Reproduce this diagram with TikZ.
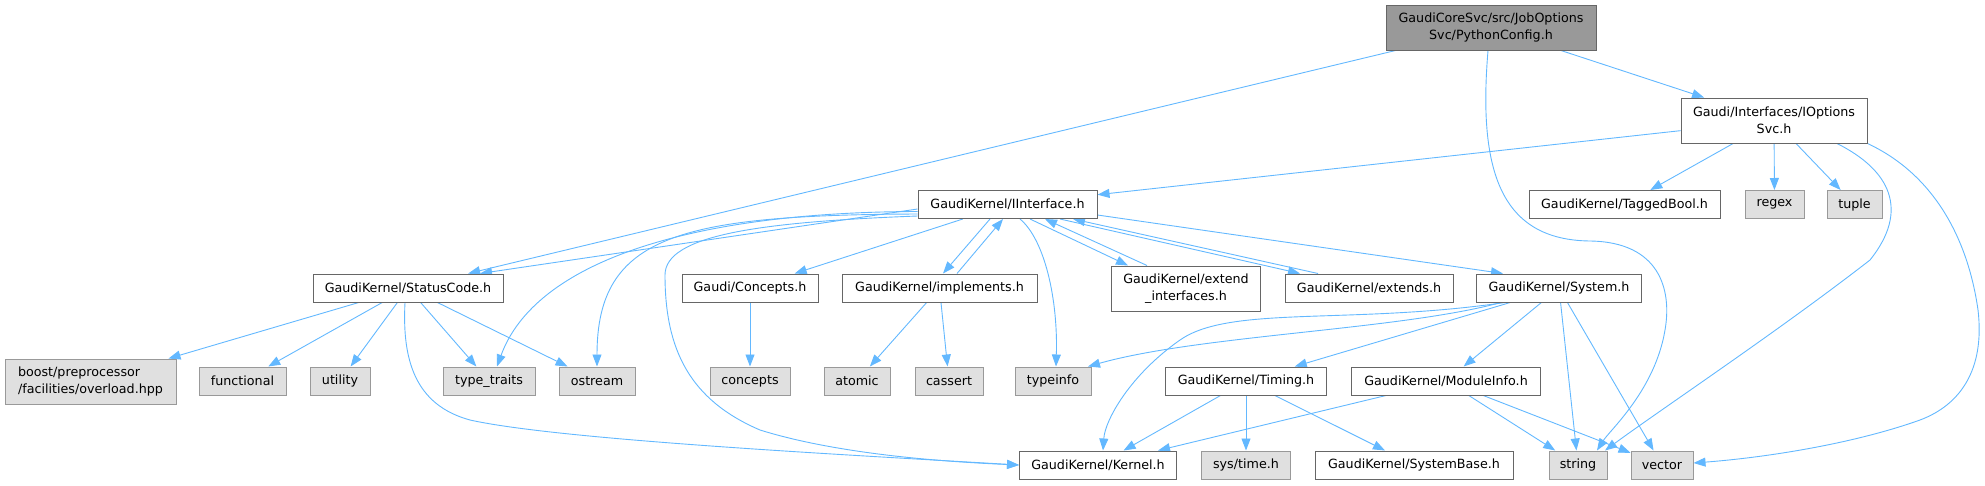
\documentclass[tikz,border=0pt]{standalone}
\usepackage{fontspec}
\setmainfont{DejaVu Sans}
\usetikzlibrary{arrows.meta}
\definecolor{edgec}{HTML}{63B8FF}
\definecolor{bord}{HTML}{666666}
\definecolor{gbord}{HTML}{999999}
\definecolor{gfill}{HTML}{E0E0E0}
\definecolor{rootfill}{HTML}{999999}
\pgfdeclarelayer{bg}
\pgfsetlayers{bg,main}
\begin{document}
\begin{tikzpicture}[x=1pt,y=-1pt,
  every node/.style={font=\fontsize{12.7}{17}\selectfont, inner sep=0pt, align=center, text=black},
  wbox/.style={draw=bord, fill=white, line width=1pt, minimum height=28pt},
  gbox/.style={draw=gbord, fill=gfill, line width=1pt, minimum height=28pt},
  rbox/.style={draw=bord, fill=rootfill, line width=1pt},
  tall/.style={minimum height=45pt},
  edge/.style={draw=edgec, line width=0.9pt, -{Triangle[length=12pt,width=9pt]}},
]
\useasboundingbox (0,0) rectangle (1985,485);
% nodes
\node[rbox, tall, minimum width=210pt] (root) at (1491,27.5) {GaudiCoreSvc/src/JobOptions\\Svc/PythonConfig.h};
\node[wbox, tall, minimum width=186pt] (iopt) at (1774,120.5) {Gaudi/Interfaces/IOptions\\Svc.h};
\node[wbox, minimum width=191pt] (tagged) at (1624.5,204.5) {GaudiKernel/TaggedBool.h};
\node[gbox, minimum width=59pt] (regex) at (1774.5,204.5) {regex};
\node[gbox, minimum width=55pt] (tuple) at (1854.5,204.5) {tuple};
\node[wbox, minimum width=179pt] (iint) at (1007.5,204.5) {GaudiKernel/IInterface.h};
\node[wbox, minimum width=190pt] (status) at (408,288) {GaudiKernel/StatusCode.h};
\node[wbox, minimum width=136pt] (concepth) at (750,288) {Gaudi/Concepts.h};
\node[wbox, minimum width=195pt] (impl) at (939.5,288) {GaudiKernel/implements.h};
\node[wbox, tall, minimum width=149pt] (extif) at (1186,288.5) {GaudiKernel/extend\\\_interfaces.h};
\node[wbox, minimum width=168pt] (extends) at (1369,288) {GaudiKernel/extends.h};
\node[wbox, minimum width=165pt] (system) at (1559,288) {GaudiKernel/System.h};
\node[gbox, tall, minimum width=171pt, align=left] (boost) at (90.5,381.5) {boost/preprocessor\\/facilities/overload.hpp};
\node[gbox, minimum width=87pt] (functional) at (242.5,381) {functional};
\node[gbox, minimum width=60pt] (utility) at (340,381) {utility};
\node[gbox, minimum width=92pt] (tt) at (489,381) {type\_traits};
\node[gbox, minimum width=76pt] (ostream) at (597,381) {ostream};
\node[gbox, minimum width=80pt] (concepts) at (750,381) {concepts};
\node[gbox, minimum width=66pt] (atomic) at (857,381) {atomic};
\node[gbox, minimum width=68pt] (cassert) at (949,381) {cassert};
\node[gbox, minimum width=76pt] (typeinfo) at (1053,381) {typeinfo};
\node[wbox, minimum width=161pt] (timing) at (1246,381) {GaudiKernel/Timing.h};
\node[wbox, minimum width=189pt] (modinfo) at (1446,381) {GaudiKernel/ModuleInfo.h};
\node[wbox, minimum width=157pt] (kernel) at (1098,465) {GaudiKernel/Kernel.h};
\node[gbox, minimum width=89pt] (systime) at (1246,465) {sys/time.h};
\node[wbox, minimum width=198pt] (sysbase) at (1414,465) {GaudiKernel/SystemBase.h};
\node[gbox, minimum width=58pt] (string) at (1578,465) {string};
\node[gbox, minimum width=62pt] (vector) at (1662,465) {vector};
% edges
\begin{pgfonlayer}{bg}
\draw[edge] (root) -- (status);
\draw[edge] (root) -- (iopt);
\draw[edge] ([xshift=-3pt]root.south) .. controls (1478,170) and (1500,240) .. (1590,241)
   .. controls (1660,242) and (1672,290) .. (1665,330)
   .. controls (1655,390) and (1610,430) .. ([xshift=19pt]string.north);
\draw[edge] (iopt) -- (iint);
\draw[edge] (iopt) -- (tagged);
\draw[edge] (iopt) -- (regex);
\draw[edge] (iopt) -- (tuple);
\draw[edge] ([xshift=63pt]iopt.south) .. controls (1890,170) and (1910,210) .. (1870,260)
   .. controls (1780,330) and (1660,410) .. ([xshift=27pt]string.north);
\draw[edge] (iopt.south east) .. controls (1935,175) and (1968,240) .. (1978,310)
   .. controls (1985,370) and (1960,405) .. (1920,420)
   .. controls (1850,445) and (1760,458) .. ([yshift=2pt]vector.east);
% IInterface
\draw[edge] ([yshift=-4.5pt]iint.west) -- ([xshift=72pt]status.north);
\draw[edge] ([yshift=-7pt]iint.west) .. controls (690,212) and (535,262) .. ([xshift=8pt]tt.north);
\draw[edge] ([yshift=-9.5pt]iint.west) .. controls (680,215) and (597,235) .. (ostream.north);
\draw[edge] ([yshift=-11.5pt]iint.west) .. controls (760,222) and (665,235) .. (665,275)
   .. controls (665,350) and (690,400) .. (760,430)
   .. controls (840,455) and (950,462) .. (kernel.west);
\draw[edge] (iint) -- (concepth);
\draw[edge] ([xshift=-17.5pt]iint.south) -- ([xshift=3.5pt]impl.north);
\draw[edge] ([xshift=17.5pt]impl.north) -- ([xshift=-4.5pt]iint.south);
\draw[edge] ([xshift=12.5pt]iint.south) .. controls (1045,240) and (1058,300) .. ([xshift=3pt]typeinfo.north);
\draw[edge] ([xshift=22.5pt]iint.south) -- ([xshift=-58pt]extif.north);
\draw[edge] ([xshift=-39pt]extif.north) -- ([xshift=37.5pt]iint.south);
\draw[edge] ([xshift=52.5pt]iint.south) -- ([xshift=-69pt]extends.north);
\draw[edge] ([xshift=-51pt]extends.north) -- ([xshift=65.5pt]iint.south);
\draw[edge] ([yshift=-10.5pt]iint.east) -- ([xshift=-56pt]system.north);
% StatusCode
\draw[edge] (status) -- (boost);
\draw[edge] (status) -- (functional);
\draw[edge] (status) -- (utility);
\draw[edge] (status) -- (tt);
\draw[edge] (status) -- (ostream);
\draw[edge] ([xshift=-3pt]status.south) .. controls (402,360) and (415,405) .. (470,420)
   .. controls (560,440) and (850,455) .. (kernel.west);
% others
\draw[edge] (concepth) -- (concepts);
\draw[edge] (impl) -- (atomic);
\draw[edge] (impl) -- (cassert);
% System
\draw[edge] ([xshift=-54pt]system.south) .. controls (1350,325) and (1230,305) .. (1180,340)
   .. controls (1130,375) and (1105,420) .. ([xshift=5pt]kernel.north);
\draw[edge] ([xshift=-58pt]system.south) .. controls (1400,330) and (1200,335) .. ([xshift=35pt]typeinfo.north);
\draw[edge] (system) -- (timing);
\draw[edge] (system) -- (modinfo);
\draw[edge] (system) -- (string);
\draw[edge] (system) -- (vector);
% Timing
\draw[edge] (timing) -- (kernel);
\draw[edge] (timing) -- (systime);
\draw[edge] (timing) -- (sysbase);
% ModuleInfo
\draw[edge] (modinfo) -- (kernel);
\draw[edge] (modinfo) -- (string);
\draw[edge] (modinfo) -- (vector);
\end{pgfonlayer}
\end{tikzpicture}
\end{document}
